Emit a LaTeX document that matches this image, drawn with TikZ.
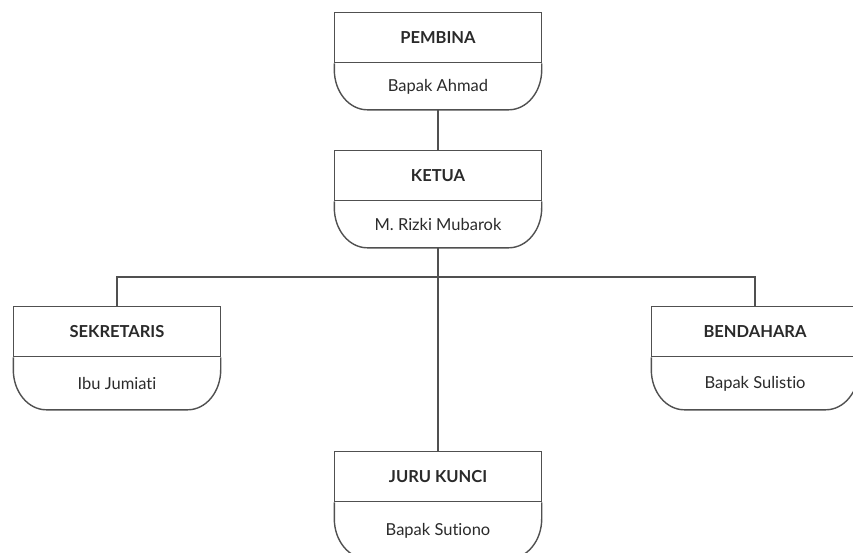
\documentclass[tikz,border=0pt]{standalone}
\usepackage{fontspec}
\setmainfont{Lato}[Ligatures={NoCommon}]
\definecolor{lineclr}{HTML}{505050}
\definecolor{txtclr}{HTML}{2A2A2A}
\tikzset{
  orgline/.style={draw=lineclr, line width=1.4pt},
  titlebox/.style={orgline, rectangle, minimum width=207pt, minimum height=50pt, inner sep=0pt,
    font=\fontsize{16.5}{19}\selectfont\bfseries, text=txtclr, anchor=north},
  namebox/.style={rectangle, minimum width=207pt, inner sep=0pt,
    font=\fontsize{16.5}{19}\selectfont, text=txtclr, anchor=north},
  link/.style={orgline}
}
\newcommand\orgunit[6]{%
  \node[titlebox] (#1) at (#2pt,-#3pt) {#4};
  \node[namebox, minimum height=#6pt] (#1n) at (#1.south) {#5};
  \draw[orgline] (#1n.north west) -- ([yshift=40pt]#1n.south west)
     arc[start angle=180, end angle=270, x radius=33pt, y radius=40pt]
     -- ([xshift=-33pt]#1n.south east)
     arc[start angle=270, end angle=360, x radius=33pt, y radius=40pt]
     -- (#1n.north east);
}
\begin{document}
\begin{tikzpicture}
\useasboundingbox (0,0) rectangle (853pt,-552pt);
\clip (0,0) rectangle (853pt,-552pt);
\orgunit{pembina}{438}{12}{PEMBINA}{Bapak Ahmad}{46}
\orgunit{ketua}{438}{150}{KETUA}{M. Rizki Mubarok}{46}
\orgunit{sekretaris}{117}{306}{SEKRETARIS}{Ibu Jumiati}{52}
\orgunit{bendahara}{755}{306}{BENDAHARA}{Bapak Sulistio}{52}
\orgunit{juru}{438}{451}{JURU KUNCI}{Bapak Sutiono}{56}
\coordinate (bus) at (438pt,-277pt);
\draw[link] (pembinan.south) -- (ketua.north);
\draw[link] (ketuan.south) -- (juru.north);
\draw[link] (sekretaris.north) |- (bus) -| (bendahara.north);
\end{tikzpicture}
\end{document}
